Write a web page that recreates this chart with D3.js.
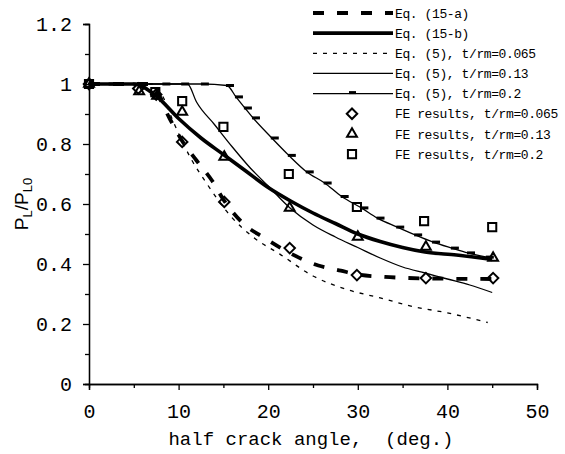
<!DOCTYPE html>
<html>
<head>
<meta charset="utf-8">
<script src="https://cdn.jsdelivr.net/npm/d3@7"></script>
<style>
  body { margin: 0; background: #fff; }
  svg { display: block; }
</style>
</head>
<body>
<svg id="chart" width="565" height="454"></svg>
<script>
// ---- data ----
const xTicks = [0, 10, 20, 30, 40, 50];
const yTicks = [0, 0.2, 0.4, 0.6, 0.8, 1, 1.2];

// Eq. (15-a)  thick dashed
const eq15aX = [0, 7, 7.6, 9, 10.4, 12, 13.8, 15, 17.4, 19.4, 22.5, 25.6, 28.1, 30, 33, 37.5, 45];
const eq15aY = [1, 1, 0.97, 0.885, 0.81, 0.745, 0.675, 0.615, 0.53, 0.49, 0.435, 0.395, 0.378, 0.365, 0.357, 0.352, 0.35];

// Eq. (15-b)  thick solid
const eq15bX = [0, 5, 7.5, 10, 12.5, 15, 17.5, 20, 22.5, 25, 27.5, 30, 32.5, 35, 37.5, 41, 45];
const eq15bY = [1, 1, 0.96, 0.885, 0.82, 0.765, 0.71, 0.655, 0.61, 0.57, 0.535, 0.5, 0.475, 0.455, 0.44, 0.43, 0.415];

// Eq. (5), t/rm=0.065  thin dashed
const eq5aX = [0, 7, 8.3, 9.4, 11.4, 13.1, 15.8, 18.3, 21.3, 25, 28.8, 32.5, 36.2, 40, 44.5];
const eq5aY = [1, 1, 0.955, 0.875, 0.75, 0.67, 0.56, 0.49, 0.433, 0.36, 0.315, 0.287, 0.258, 0.237, 0.205];

// Eq. (5), t/rm=0.13  thin solid
const eq5bX = [0, 11, 12, 14, 16, 18, 20, 22.5, 25, 27.5, 30, 32.5, 35, 37.5, 40, 42.5, 45];
const eq5bY = [1, 1, 0.94, 0.865, 0.79, 0.72, 0.66, 0.585, 0.53, 0.49, 0.455, 0.42, 0.39, 0.37, 0.35, 0.33, 0.305];

// Eq. (5), t/rm=0.2  thin solid with dash markers
const eq5cX = [0, 2.3, 5, 8.3, 10.4, 12.6, 15.4, 16.4, 17.4, 18.3, 20.4, 22.3, 24.3, 26.3, 28.2, 30.4, 32.2, 34.4, 36.4, 38.4, 40.5, 42.3, 44.4];
const eq5cY = [1, 1, 1, 1, 1, 1, 0.995, 0.957, 0.92, 0.887, 0.82, 0.762, 0.707, 0.67, 0.625, 0.587, 0.553, 0.523, 0.497, 0.473, 0.453, 0.437, 0.423];

// FE results
const feAX = [0, 5.5, 7.5, 10.4, 15.1, 22.4, 29.9, 37.6, 45.1];
const feAY = [1, 0.985, 0.965, 0.807, 0.607, 0.453, 0.363, 0.353, 0.353];
const feBX = [0, 5.6, 7.6, 10.4, 15.1, 22.4, 30, 37.6, 45.1];
const feBY = [1, 0.975, 0.96, 0.907, 0.757, 0.587, 0.49, 0.457, 0.42];
const feCX = [0, 7.4, 10.4, 15, 22.3, 29.9, 37.4, 45];
const feCY = [1, 0.973, 0.943, 0.857, 0.7, 0.59, 0.543, 0.523];

const legendLabels = [
  "Eq. (15-a)", "Eq. (15-b)", "Eq. (5), t/rm=0.065", "Eq. (5), t/rm=0.13",
  "Eq. (5), t/rm=0.2", "FE results, t/rm=0.065", "FE results, t/rm=0.13", "FE results, t/rm=0.2"
];

// ---- drawing ----
const MONO = "'Liberation Mono', 'DejaVu Sans Mono', monospace";
const svg = d3.select("#chart");
const x = d3.scaleLinear().domain([0, 50]).range([89, 537]);
const y = d3.scaleLinear().domain([0, 1.2]).range([384, 24]);

const zip = (xs, ys) => xs.map((v, i) => [v, ys[i]]);
const line = d3.line().x(d => x(d[0])).y(d => y(d[1])).curve(d3.curveMonotoneX);

// axes
const xAxis = d3.axisBottom(x).tickValues(xTicks).tickSize(6).tickPadding(14).tickFormat(d3.format("d"));
const xMinor = d3.axisBottom(x).tickValues(d3.range(5, 50, 10)).tickSize(4).tickFormat("");
const yAxis = d3.axisLeft(y).tickValues(yTicks).tickSize(6).tickPadding(11).tickFormat(d => String(d));
const yMinor = d3.axisLeft(y).tickValues(d3.range(0.1, 1.2, 0.2)).tickSize(4).tickFormat("");

function styleAxis(g) {
  g.select(".domain").attr("stroke", "#000").attr("stroke-width", 1.3);
  g.selectAll(".tick line").attr("stroke", "#000").attr("stroke-width", 1.3);
  g.selectAll(".tick text").attr("font-family", MONO)
    .attr("font-size", 20).attr("fill", "#000");
}
svg.append("g").attr("transform", `translate(0,${y(0)})`).call(xAxis).call(styleAxis);
svg.append("g").attr("transform", `translate(0,${y(0)})`).call(xMinor).call(styleAxis);
svg.append("g").attr("transform", `translate(${x(0)},0)`).call(yAxis).call(styleAxis);
svg.append("g").attr("transform", `translate(${x(0)},0)`).call(yMinor).call(styleAxis);

// axis titles
svg.append("text").attr("x", 311).attr("y", 445).attr("text-anchor", "middle")
  .attr("font-family", MONO).attr("font-size", 19).attr("fill", "#000")
  .style("white-space", "pre")
  .text("half crack angle,  (deg.)");

const yt = svg.append("text").attr("transform", "translate(28,204) rotate(-90)")
  .attr("text-anchor", "middle").attr("font-family", "'Liberation Sans', Arial, sans-serif").attr("font-size", 19).attr("fill", "#000");
yt.append("tspan").text("P");
yt.append("tspan").attr("font-size", 13).attr("dy", 4).text("L");
yt.append("tspan").attr("dy", -4).text("/P");
yt.append("tspan").attr("font-size", 13).attr("dy", 4).text("L0");

// series styles
const lineSeries = [
  { data: zip(eq15aX, eq15aY), w: 3.8, dash: "11,13" },
  { data: zip(eq15bX, eq15bY), w: 3.6, dash: null },
  { data: zip(eq5aX, eq5aY), w: 1.3, dash: "4,6" },
  { data: zip(eq5bX, eq5bY), w: 1.3, dash: null },
  { data: zip(eq5cX, eq5cY), w: 1.3, dash: null, dashMarks: true }
];

const plot = svg.append("g");
lineSeries.forEach(s => {
  plot.append("path").datum(s.data).attr("d", line)
    .attr("fill", "none").attr("stroke", "#000").attr("stroke-width", s.w)
    .attr("stroke-dasharray", s.dash);
  if (s.dashMarks) {
    plot.selectAll(null).data(s.data).enter().append("rect")
      .attr("x", d => x(d[0]) - 1).attr("y", d => y(d[1]) - 1.5)
      .attr("width", 8).attr("height", 3).attr("fill", "#000");
  }
});

const symDiamond = d3.symbol().type(d3.symbolDiamond2).size(70);
const symTriangle = d3.symbol().type(d3.symbolTriangle2).size(70);
const symSquare = d3.symbol().type(d3.symbolSquare2).size(85);
const feSeries = [
  { data: zip(feAX, feAY), sym: symDiamond },
  { data: zip(feBX, feBY), sym: symTriangle },
  { data: zip(feCX, feCY), sym: symSquare }
];
feSeries.forEach(s => {
  plot.selectAll(null).data(s.data).enter().append("path")
    .attr("d", s.sym).attr("transform", d => `translate(${x(d[0])},${y(d[1])})`)
    .attr("fill", "none").attr("stroke", "#000").attr("stroke-width", 2);
});

// legend
const legY0 = 13, legStep = 20.15;
const leg = svg.append("g");
legendLabels.forEach((lab, i) => {
  const yy = legY0 + i * legStep;
  if (i < 5) {
    const s = lineSeries[i];
    leg.append("line").attr("x1", 313).attr("x2", 393).attr("y1", yy).attr("y2", yy)
      .attr("stroke", "#000").attr("stroke-width", s.w).attr("stroke-dasharray", s.dash);
    if (s.dashMarks) leg.append("rect").attr("x", 349).attr("y", yy - 2.5).attr("width", 7).attr("height", 3).attr("fill", "#000");
  } else {
    leg.append("path").attr("d", feSeries[i - 5].sym).attr("transform", `translate(352,${yy})`)
      .attr("fill", "none").attr("stroke", "#000").attr("stroke-width", 2);
  }
  leg.append("text").attr("x", 395).attr("y", yy).attr("dy", "0.36em")
    .attr("font-family", MONO).attr("font-size", 13).attr("letter-spacing", -0.4)
    .attr("fill", "#000").text(lab);
});
</script>
</body>
</html>
